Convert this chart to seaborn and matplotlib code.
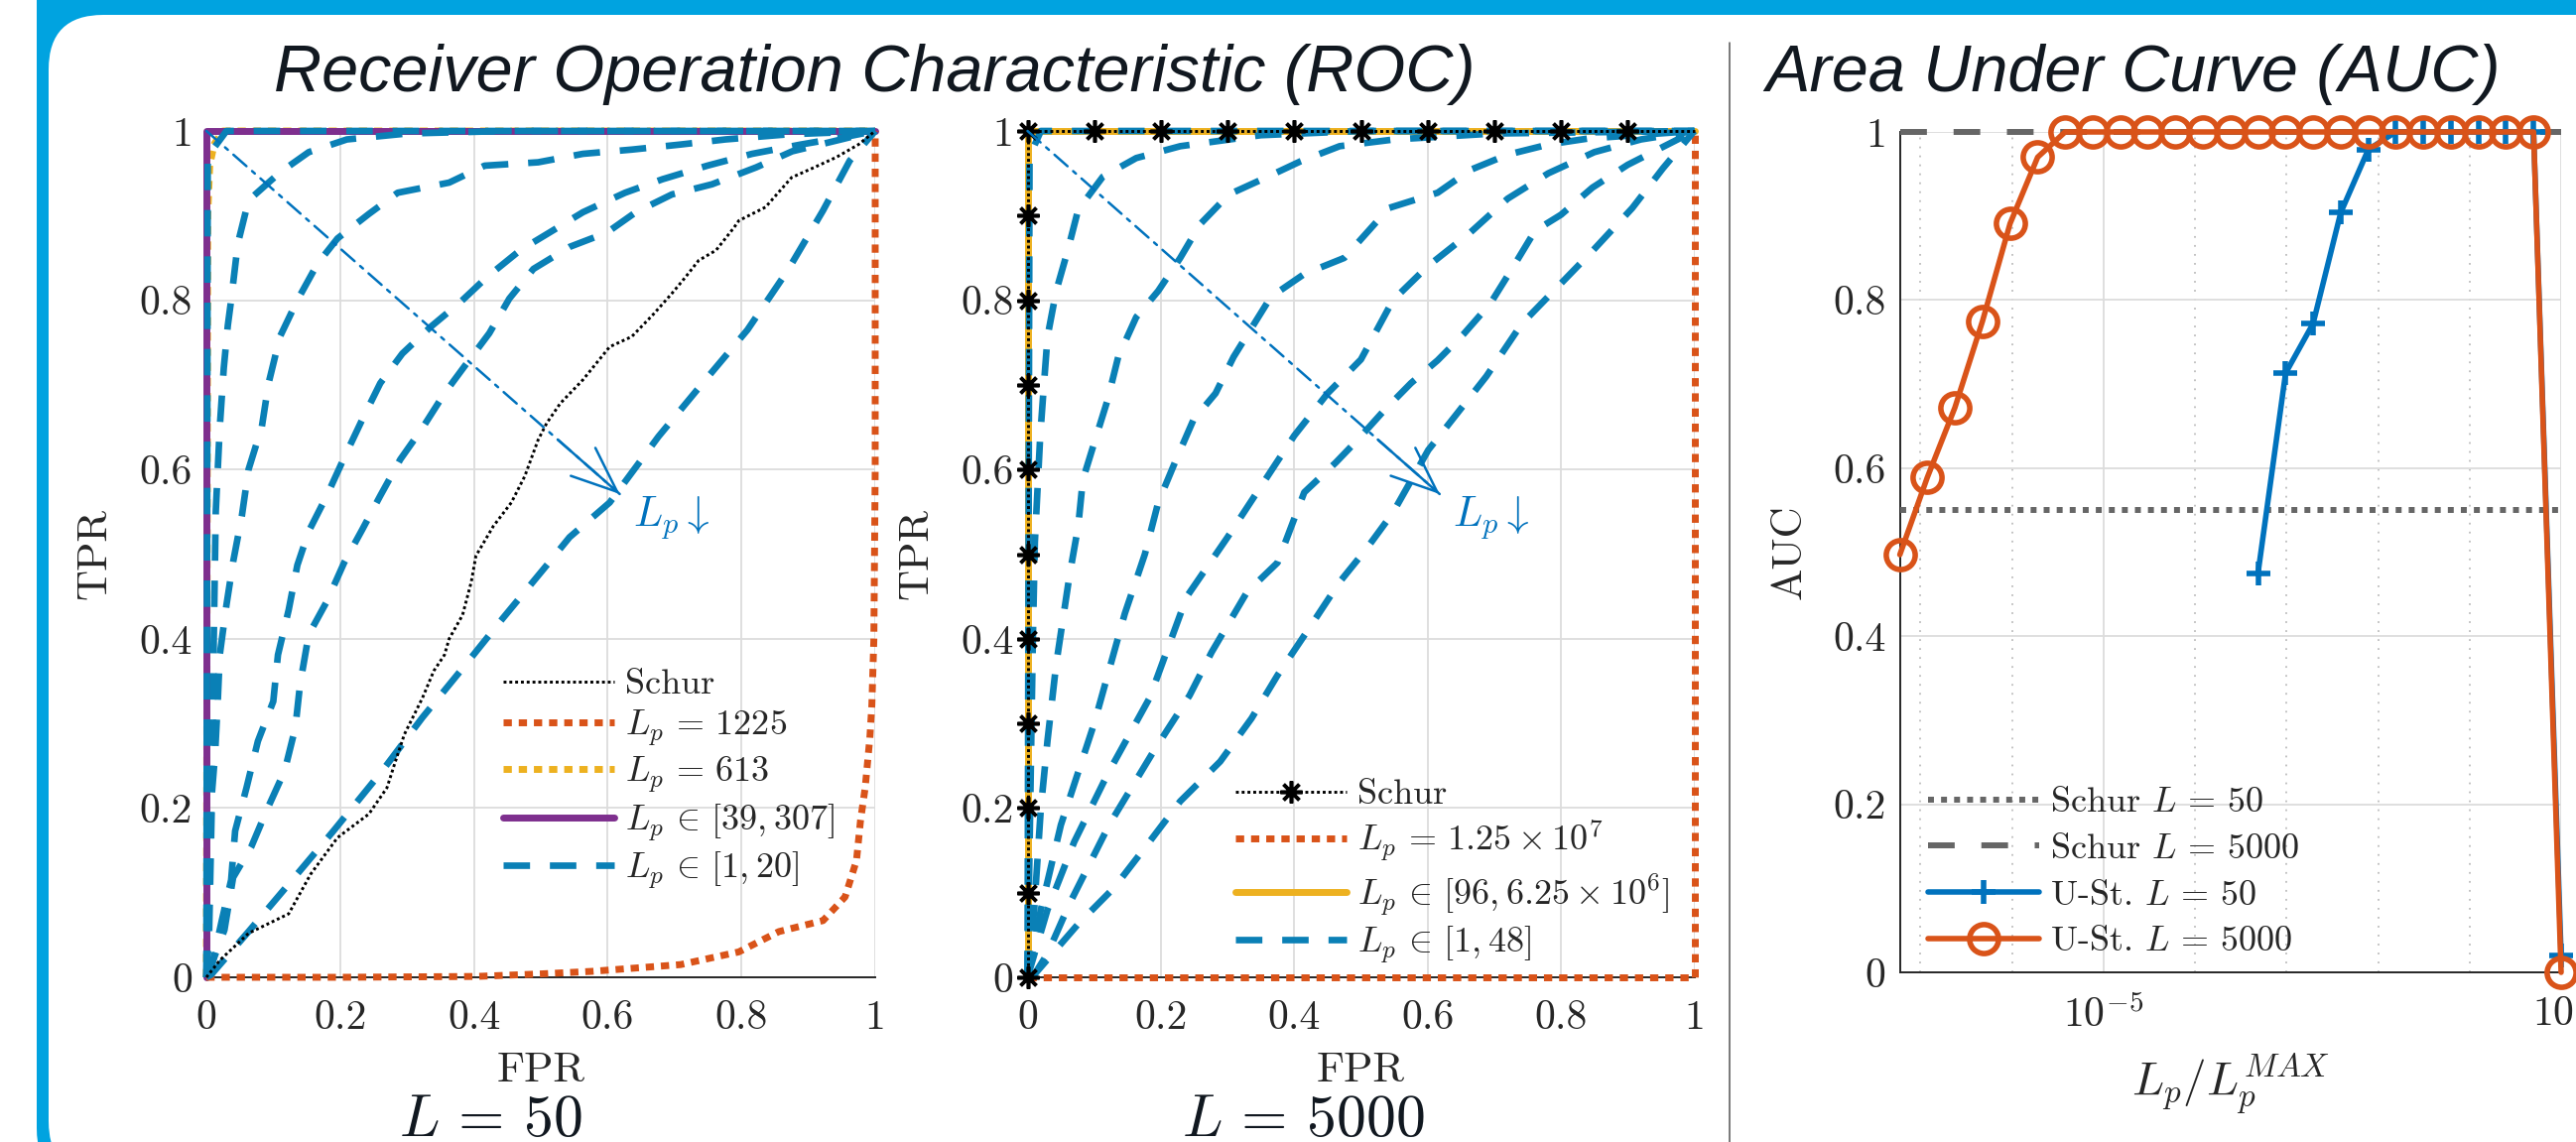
import numpy as np
import matplotlib
matplotlib.use("Agg")
import matplotlib.pyplot as plt
import seaborn as sns
from matplotlib.patches import FancyBboxPatch
from matplotlib.lines import Line2D
from matplotlib.transforms import IdentityTransform


# --- ROC curves for L = 50 (FPR, TPR) ---

schur_50 = [(0, 0), (0.003, 0.003), (0.02, 0.02), (0.063, 0.052), (0.123, 0.075), (0.156, 0.122),
            (0.196, 0.165), (0.243, 0.193), (0.27, 0.224), (0.283, 0.256), (0.296, 0.287), (0.323, 0.33),
            (0.34, 0.362), (0.356, 0.381), (0.363, 0.4), (0.383, 0.428), (0.396, 0.467), (0.403, 0.498),
            (0.429, 0.533), (0.456, 0.561), (0.476, 0.592), (0.496, 0.635), (0.509, 0.655), (0.529, 0.678),
            (0.563, 0.706), (0.603, 0.745), (0.636, 0.757), (0.669, 0.784), (0.696, 0.808), (0.716, 0.827),
            (0.736, 0.847), (0.762, 0.859), (0.789, 0.886), (0.796, 0.894), (0.836, 0.91), (0.875, 0.945),
            (0.909, 0.957), (0.942, 0.969), (0.975, 0.984), (1, 1)]
lp1225_50 = [(0, 0), (0.2, 0), (0.403, 0.001), (0.5, 0.004), (0.576, 0.007), (0.709, 0.015), (0.796, 0.03),
             (0.856, 0.054), (0.922, 0.067), (0.955, 0.095), (0.972, 0.138), (0.978, 0.185), (0.985, 0.224),
             (0.992, 0.283), (0.995, 0.322), (0.998, 0.4), (1, 0.6), (1, 1)]
lp613_50 = [(0, 0), (0.002, 0.9), (0.005, 0.96), (0.012, 0.985), (0.025, 1), (1, 1)]
lp39_307_50 = [(0, 0), (0, 1), (1, 1)]
lp20_50 = [(0, 0), (0.002, 0.97), (0.03, 1), (1, 1)]
lp10_50 = [(0, 0), (0.004, 0.05), (0.008, 0.2), (0.011, 0.4), (0.014, 0.55), (0.02, 0.65), (0.026, 0.72),
           (0.032, 0.77), (0.037, 0.8), (0.047, 0.867), (0.063, 0.918), (0.11, 0.951), (0.153, 0.975),
           (0.21, 0.99), (0.3, 0.997), (0.45, 1), (1, 1)]
lp5_50 = [(0, 0), (0.003, 0.1), (0.007, 0.205), (0.013, 0.264), (0.017, 0.326), (0.02, 0.381), (0.03, 0.44),
          (0.04, 0.491), (0.053, 0.545), (0.063, 0.6), (0.083, 0.651), (0.093, 0.702), (0.11, 0.757),
          (0.136, 0.8), (0.166, 0.843), (0.196, 0.873), (0.243, 0.902), (0.286, 0.927), (0.363, 0.939),
          (0.416, 0.959), (0.496, 0.963), (0.563, 0.973), (0.636, 0.978), (0.709, 0.984), (0.776, 0.99),
          (0.869, 0.996), (1, 1)]
lp3_50 = [(0, 0), (0.007, 0.009), (0.023, 0.067), (0.037, 0.115), (0.043, 0.173), (0.06, 0.224), (0.077, 0.279),
          (0.1, 0.326), (0.107, 0.381), (0.123, 0.434), (0.136, 0.487), (0.153, 0.527), (0.18, 0.569),
          (0.206, 0.614), (0.233, 0.659), (0.26, 0.702), (0.293, 0.737), (0.336, 0.769), (0.38, 0.798),
          (0.419, 0.827), (0.469, 0.859), (0.513, 0.88), (0.563, 0.904), (0.626, 0.927), (0.682, 0.943),
          (0.749, 0.959), (0.816, 0.973), (0.889, 0.984), (0.962, 0.994), (1, 1)]
lp2_50 = [(0, 0), (0.003, 0.005), (0.027, 0.056), (0.04, 0.118), (0.067, 0.154), (0.09, 0.197), (0.117, 0.244),
          (0.133, 0.295), (0.14, 0.346), (0.153, 0.405), (0.18, 0.444), (0.206, 0.49), (0.233, 0.529),
          (0.26, 0.569), (0.29, 0.612), (0.323, 0.649), (0.356, 0.69), (0.386, 0.722), (0.423, 0.761),
          (0.453, 0.802), (0.489, 0.837), (0.543, 0.863), (0.599, 0.88), (0.642, 0.904), (0.696, 0.925),
          (0.756, 0.937), (0.822, 0.957), (0.876, 0.976), (0.949, 0.99), (1, 1)]
lp1_50 = [(0, 0), (0.007, 0.003), (0.063, 0.054), (0.123, 0.11), (0.19, 0.173), (0.263, 0.244), (0.323, 0.307),
          (0.383, 0.365), (0.443, 0.424), (0.509, 0.487), (0.543, 0.52), (0.603, 0.561), (0.676, 0.639),
          (0.742, 0.702), (0.809, 0.765), (0.869, 0.835), (0.922, 0.906), (0.962, 0.965), (1, 1)]

# --- ROC curves for L = 5000 ---

schur_5000_fpr = [0, 0, 0, 0, 0, 0, 0, 0, 0, 0, 0, 0.1, 0.2, 0.3, 0.4, 0.5, 0.6, 0.7, 0.8, 0.9, 1.0]
schur_5000_tpr = [0, 0.1, 0.2, 0.3, 0.4, 0.5, 0.6, 0.7, 0.8, 0.9, 1, 1, 1, 1, 1, 1, 1, 1, 1, 1, 1]
lpmax_5000 = [(0, 0), (1, 0), (1, 1)]
lp96_up_5000 = [(0, 0), (0, 1), (1, 1)]
lp48_5000 = [(0, 0), (0.003, 0.97), (0.02, 1), (1, 1)]
lp24_5000 = [(0, 0), (0.004, 0.2), (0.008, 0.4), (0.011, 0.514), (0.015, 0.577), (0.019, 0.639), (0.024, 0.694),
             (0.03, 0.757), (0.043, 0.811), (0.06, 0.858), (0.076, 0.907), (0.113, 0.946), (0.163, 0.968),
             (0.229, 0.982), (0.35, 0.995), (0.5, 1), (1, 1)]
lp12_5000 = [(0, 0), (0.01, 0.08), (0.02, 0.2), (0.03, 0.28), (0.043, 0.37), (0.063, 0.475), (0.076, 0.533),
             (0.083, 0.588), (0.103, 0.639), (0.12, 0.682), (0.136, 0.733), (0.163, 0.78), (0.196, 0.811),
             (0.229, 0.85), (0.259, 0.89), (0.302, 0.925), (0.355, 0.944), (0.409, 0.964), (0.468, 0.982),
             (0.55, 0.99), (0.7, 0.997), (1, 1)]
lp6_5000 = [(0, 0), (0.02, 0.08), (0.05, 0.18), (0.1, 0.3), (0.146, 0.43), (0.176, 0.5), (0.196, 0.561),
            (0.223, 0.612), (0.249, 0.659), (0.282, 0.69), (0.309, 0.733), (0.365, 0.804), (0.415, 0.831),
            (0.475, 0.85), (0.542, 0.909), (0.615, 0.927), (0.664, 0.954), (0.72, 0.972), (0.781, 0.984),
            (0.84, 0.991), (1, 1)]
lp3_5000 = [(0, 0), (0.03, 0.08), (0.07, 0.16), (0.12, 0.24), (0.183, 0.33), (0.239, 0.45), (0.3, 0.52),
            (0.35, 0.58), (0.4, 0.64), (0.45, 0.69), (0.5, 0.73), (0.548, 0.8), (0.6, 0.84), (0.664, 0.88),
            (0.72, 0.92), (0.781, 0.95), (0.85, 0.975), (0.92, 0.99), (1, 1)]
lp2_5000 = [(0, 0), (0.01, 0.003), (0.03, 0.028), (0.063, 0.087), (0.123, 0.181), (0.189, 0.267), (0.243, 0.333),
            (0.276, 0.384), (0.329, 0.455), (0.375, 0.49), (0.415, 0.573), (0.462, 0.608), (0.495, 0.635),
            (0.535, 0.67), (0.575, 0.702), (0.615, 0.729), (0.654, 0.76), (0.694, 0.796), (0.728, 0.839),
            (0.761, 0.882), (0.8, 0.901), (0.847, 0.933), (0.9, 0.96), (1, 1)]
lp1_5000 = [(0, 0), (0.01, 0.003), (0.076, 0.063), (0.13, 0.106), (0.176, 0.153), (0.229, 0.208), (0.289, 0.255),
            (0.336, 0.306), (0.375, 0.357), (0.422, 0.412), (0.468, 0.467), (0.508, 0.506), (0.548, 0.549),
            (0.601, 0.623), (0.648, 0.67), (0.688, 0.71), (0.741, 0.772), (0.794, 0.815), (0.847, 0.858),
            (0.907, 0.909), (0.953, 0.956), (1, 1)]

# --- AUC vs Lp / Lp^MAX ---

ratio_50 = [4.88e-4, 9.77e-4, 1.95e-3, 3.91e-3, 7.81e-3, 1.56e-2, 3.13e-2, 6.25e-2, 0.125, 0.25, 0.5, 1.0]
auc_ust_50 = [0.475, 0.713, 0.772, 0.904, 0.979, 1.0, 1.0, 1.0, 1.0, 1.0, 1.0, 0.02]
ratio_5000 = [5.96e-8, 1.19e-7, 2.38e-7, 4.77e-7, 9.54e-7, 1.91e-6, 3.81e-6, 7.63e-6, 1.53e-5, 3.05e-5,
              6.10e-5, 1.22e-4, 2.44e-4, 4.88e-4, 9.77e-4, 1.95e-3, 3.91e-3, 7.81e-3, 1.56e-2, 3.13e-2,
              6.25e-2, 0.125, 0.25, 0.5, 1.0]
auc_ust_5000 = [0.497, 0.589, 0.672, 0.775, 0.891, 0.970, 1.0, 1.0, 1.0, 1.0, 1.0, 1.0, 1.0, 1.0, 1.0, 1.0,
                1.0, 1.0, 1.0, 1.0, 1.0, 1.0, 1.0, 1.0, 0.0]
auc_schur_50 = 0.55
auc_schur_5000 = 1.0

roc_ticks = [0, 0.2, 0.4, 0.6, 0.8, 1]
roc_ticklabels = ["0", "0.2", "0.4", "0.6", "0.8", "1"]
auc_major = [1e-5, 1e0]
auc_major_labels = [r"$10^{-5}$", r"$10^{0}$"]
auc_minor = [1e-7, 1e-6, 1e-4, 1e-3, 1e-2, 1e-1]

arrow_start = (0.0, 1.0)
arrow_tip = (0.618, 0.571)

BLUE = "#0072BD"
BLUE_D = "#0A80B6"
ORANGE = "#D95319"
YELLOW = "#EDB120"
PURPLE = "#7E2F8E"
GRAY = "#666666"
INK = "#262626"
FRAME = "#00A3E0"

sns.set_style("white")
plt.rcParams.update({
    "font.family": ["cmr10"],
    "mathtext.fontset": "cm",
    "axes.formatter.use_mathtext": True,
    "axes.unicode_minus": False,
    "legend.numpoints": 1,
})

W, H = 2596, 1151
fig = plt.figure(figsize=(W / 100, H / 100), dpi=100)

# poster frame
outer = FancyBboxPatch((37, H - 1197), 3000, 1297, boxstyle="round,pad=0,rounding_size=60",
                       transform=IdentityTransform(), fc=FRAME, ec="none", zorder=-3)
inner = FancyBboxPatch((49, H - 1185), 3000, 1170, boxstyle="round,pad=0,rounding_size=55",
                       transform=IdentityTransform(), fc="white", ec="none", zorder=-2)
fig.add_artist(outer)
fig.add_artist(inner)
fig.add_artist(Line2D([1743, 1743], [H - 43, 0], transform=IdentityTransform(), color="#555555", lw=1.1))

title_kw = dict(ha="center", va="baseline", fontsize=48, style="italic", family="Liberation Sans",
                color="#111820")
fig.text(881 / W, 1 - 92 / H, "Receiver Operation Characteristic (ROC)", **title_kw)
fig.text(2150 / W, 1 - 92 / H, "Area Under Curve (AUC)", **title_kw)
fig.text(494 / W, 1 - 1145 / H, r"$L\,=\,50$", ha="center", va="baseline", fontsize=43, color="#111820")
fig.text(1313 / W, 1 - 1145 / H, r"$L\,=\,5000$", ha="center", va="baseline", fontsize=43, color="#111820")

ax1 = fig.add_axes([208 / W, 1 - 985 / H, 674 / W, 853 / H])
ax2 = fig.add_axes([1035.5 / W, 1 - 985 / H, 672 / W, 853 / H])
ax3 = fig.add_axes([1914.6 / W, 1 - 980 / H, 666.4 / W, 847 / H])


def draw(ax, pts, **kw):
    pts = np.asarray(pts, dtype=float)
    sns.lineplot(x=pts[:, 0], y=pts[:, 1], ax=ax, estimator=None, sort=False, legend=False,
                 clip_on=False, **kw)


dashed = dict(color=BLUE_D, lw=4.8, linestyle=(0, (4, 3)), zorder=6)
dotted_thick = dict(lw=5, linestyle=(0, (1.2, 1.0)))
schur_thin = dict(color="k", lw=2.1, linestyle=(0, (1.0, 1.0)))
asterisk = dict(marker=(8, 2, 0), markersize=16, mew=2.6, mec="k")

# ---- L = 50 ROC ----
draw(ax1, schur_50, zorder=7, **schur_thin)
draw(ax1, lp1225_50, color=ORANGE, zorder=5, **dotted_thick)
draw(ax1, lp613_50, color=YELLOW, zorder=2, **dotted_thick)
draw(ax1, lp39_307_50, color=PURPLE, lw=5, zorder=3)
for curve in [lp20_50, lp10_50, lp5_50, lp3_50, lp2_50, lp1_50]:
    draw(ax1, curve, **dashed)

# ---- L = 5000 ROC ----
draw(ax2, lpmax_5000, color=ORANGE, zorder=5, **dotted_thick)
draw(ax2, lp96_up_5000, color=YELLOW, lw=5, zorder=3)
for curve in [lp48_5000, lp24_5000, lp12_5000, lp6_5000, lp3_5000, lp2_5000, lp1_5000]:
    draw(ax2, curve, **dashed)
sns.lineplot(x=schur_5000_fpr, y=schur_5000_tpr, ax=ax2, estimator=None, sort=False, legend=False,
             clip_on=False, markevery=list(range(20)), zorder=8, **schur_thin, **asterisk)

# the head segment of the "L_p decreasing" arrow lies on the same line as the shaft
head_from = (arrow_tip[0] - 0.15 * (arrow_tip[0] - arrow_start[0]),
             arrow_tip[1] - 0.15 * (arrow_tip[1] - arrow_start[1]))

for ax in (ax1, ax2):
    ax.set_xlim(0, 1)
    ax.set_ylim(0, 1)
    ax.set_xticks(roc_ticks)
    ax.set_xticklabels(roc_ticklabels)
    ax.set_yticks(roc_ticks)
    ax.set_yticklabels(roc_ticklabels)
    ax.grid(True, color="#dcdcdc", lw=1.3)
    ax.set_axisbelow(True)
    for s in ("top", "right"):
        ax.spines[s].set_visible(False)
    for s in ("left", "bottom"):
        ax.spines[s].set_color(INK)
        ax.spines[s].set_linewidth(1.4)
    ax.tick_params(direction="in", length=6, width=1.1, color=INK, labelsize=30, labelcolor=INK)
    ax.tick_params(axis="x", pad=16)
    ax.tick_params(axis="y", pad=10)
    ax.set_xlabel("FPR", fontsize=31, color=INK)
    ax.set_ylabel("TPR", fontsize=31, color=INK)
    ax.xaxis.set_label_coords(0.5, -0.088)
    ax.yaxis.set_label_coords(-0.139, 0.5)
    ax.patch.set_alpha(0)
    ax.annotate("", xy=arrow_tip, xytext=arrow_start,
                arrowprops=dict(arrowstyle="-", color=BLUE, lw=1.8, linestyle=(0, (7, 3, 1.5, 3)),
                                shrinkA=0, shrinkB=0), zorder=9)
    ax.annotate("", xy=arrow_tip, xytext=head_from,
                arrowprops=dict(arrowstyle="->,head_length=1.1,head_width=0.45", color=BLUE, lw=1.8,
                                mutation_scale=30, shrinkA=0, shrinkB=0), zorder=9)
    ax.text(arrow_tip[0] + 0.02, arrow_tip[1] - 0.028, r"$L_p\downarrow$", color=BLUE, fontsize=31,
            ha="left", va="center")

leg_kw = dict(frameon=False, fontsize=26, handlelength=3.1, handletextpad=0.3, labelspacing=0.2,
              borderpad=0, borderaxespad=0, loc="upper left", bbox_transform=fig.transFigure)

h50 = [Line2D([], [], **schur_thin),
       Line2D([], [], color=ORANGE, **dotted_thick),
       Line2D([], [], color=YELLOW, **dotted_thick),
       Line2D([], [], color=PURPLE, lw=5),
       Line2D([], [], color=BLUE_D, lw=4.8, linestyle=(0, (4, 3)))]
l50 = ["Schur", r"$L_p\,=\,1225$", r"$L_p\,=\,613$", r"$L_p\,\in\,[39, 307]$", r"$L_p\,\in\,[1, 20]$"]
ax1.legend(h50, l50, bbox_to_anchor=(507 / W, 1 - 674 / H), **leg_kw)

h5000 = [Line2D([], [], **schur_thin, **asterisk),
         Line2D([], [], color=ORANGE, **dotted_thick),
         Line2D([], [], color=YELLOW, lw=5),
         Line2D([], [], color=BLUE_D, lw=4.8, linestyle=(0, (4, 3)))]
l5000 = ["Schur", r"$L_p\,=\,1.25 \times 10^7$", r"$L_p\,\in\,[96, 6.25 \times 10^6]$", r"$L_p\,\in\,[1, 48]$"]
ax2.legend(h5000, l5000, bbox_to_anchor=(1245 / W, 1 - 785 / H), **leg_kw)

# ---- AUC ----
schur_dot = dict(color=GRAY, lw=4.3, linestyle=(0, (1.0, 1.2)))
schur_dash = dict(color=GRAY, lw=4.3, linestyle=(0, (4.5, 4.5)))
ax3.axhline(auc_schur_50, clip_on=False, zorder=3, **schur_dot)
ax3.axhline(auc_schur_5000, clip_on=False, zorder=3, **schur_dash)
sns.lineplot(x=ratio_50, y=auc_ust_50, ax=ax3, estimator=None, sort=False, legend=False, clip_on=False,
             color=BLUE, lw=4, marker="+", markersize=17, mew=4, mec=BLUE, zorder=4)
sns.lineplot(x=ratio_5000, y=auc_ust_5000, ax=ax3, estimator=None, sort=False, legend=False, clip_on=False,
             color=ORANGE, lw=4, marker="o", markersize=21, mew=4, mec=ORANGE, mfc="none", zorder=5)

ax3.set_xscale("log")
ax3.set_xlim(ratio_5000[0], 1)
ax3.set_ylim(0, 1)
ax3.set_xticks(auc_major)
ax3.set_xticklabels(auc_major_labels)
ax3.set_xticks(auc_minor, minor=True)
ax3.set_xticklabels([], minor=True)
ax3.set_yticks(roc_ticks)
ax3.set_yticklabels(roc_ticklabels)
ax3.grid(True, which="major", color="#dcdcdc", lw=1.3)
ax3.grid(True, which="minor", axis="x", color="#bdbdbd", lw=1.3, linestyle=(0, (1, 4)))
ax3.set_axisbelow(True)
for s in ("top", "right"):
    ax3.spines[s].set_visible(False)
for s in ("left", "bottom"):
    ax3.spines[s].set_color(INK)
    ax3.spines[s].set_linewidth(1.4)
ax3.tick_params(which="both", direction="in", color=INK, labelsize=30, labelcolor=INK)
ax3.tick_params(which="major", length=6, width=1.1)
ax3.tick_params(which="minor", length=4, width=1.0)
ax3.tick_params(axis="x", which="both", pad=16)
ax3.tick_params(axis="y", pad=10)
ax3.set_xlabel(r"$L_p/L_p^{MAX}$", fontsize=34, color=INK)
ax3.set_ylabel("AUC", fontsize=31, color=INK)
ax3.xaxis.set_label_coords(0.5, -0.094)
ax3.yaxis.set_label_coords(-0.1375, 0.5)
ax3.patch.set_alpha(0)

hauc = [Line2D([], [], **schur_dot),
        Line2D([], [], **schur_dash),
        Line2D([], [], color=BLUE, lw=4, marker="+", markersize=17, mew=4),
        Line2D([], [], color=ORANGE, lw=4, marker="o", markersize=21, mew=4, mfc="none")]
lauc = [r"Schur $L\,=\,50$", r"Schur $L\,=\,5000$", r"U-St. $L\,=\,50$", r"U-St. $L\,=\,5000$"]
ax3.legend(hauc, lauc, bbox_to_anchor=(1943 / W, 1 - 793 / H), **dict(leg_kw, labelspacing=0.4))

fig.savefig("out.png", dpi=100)
